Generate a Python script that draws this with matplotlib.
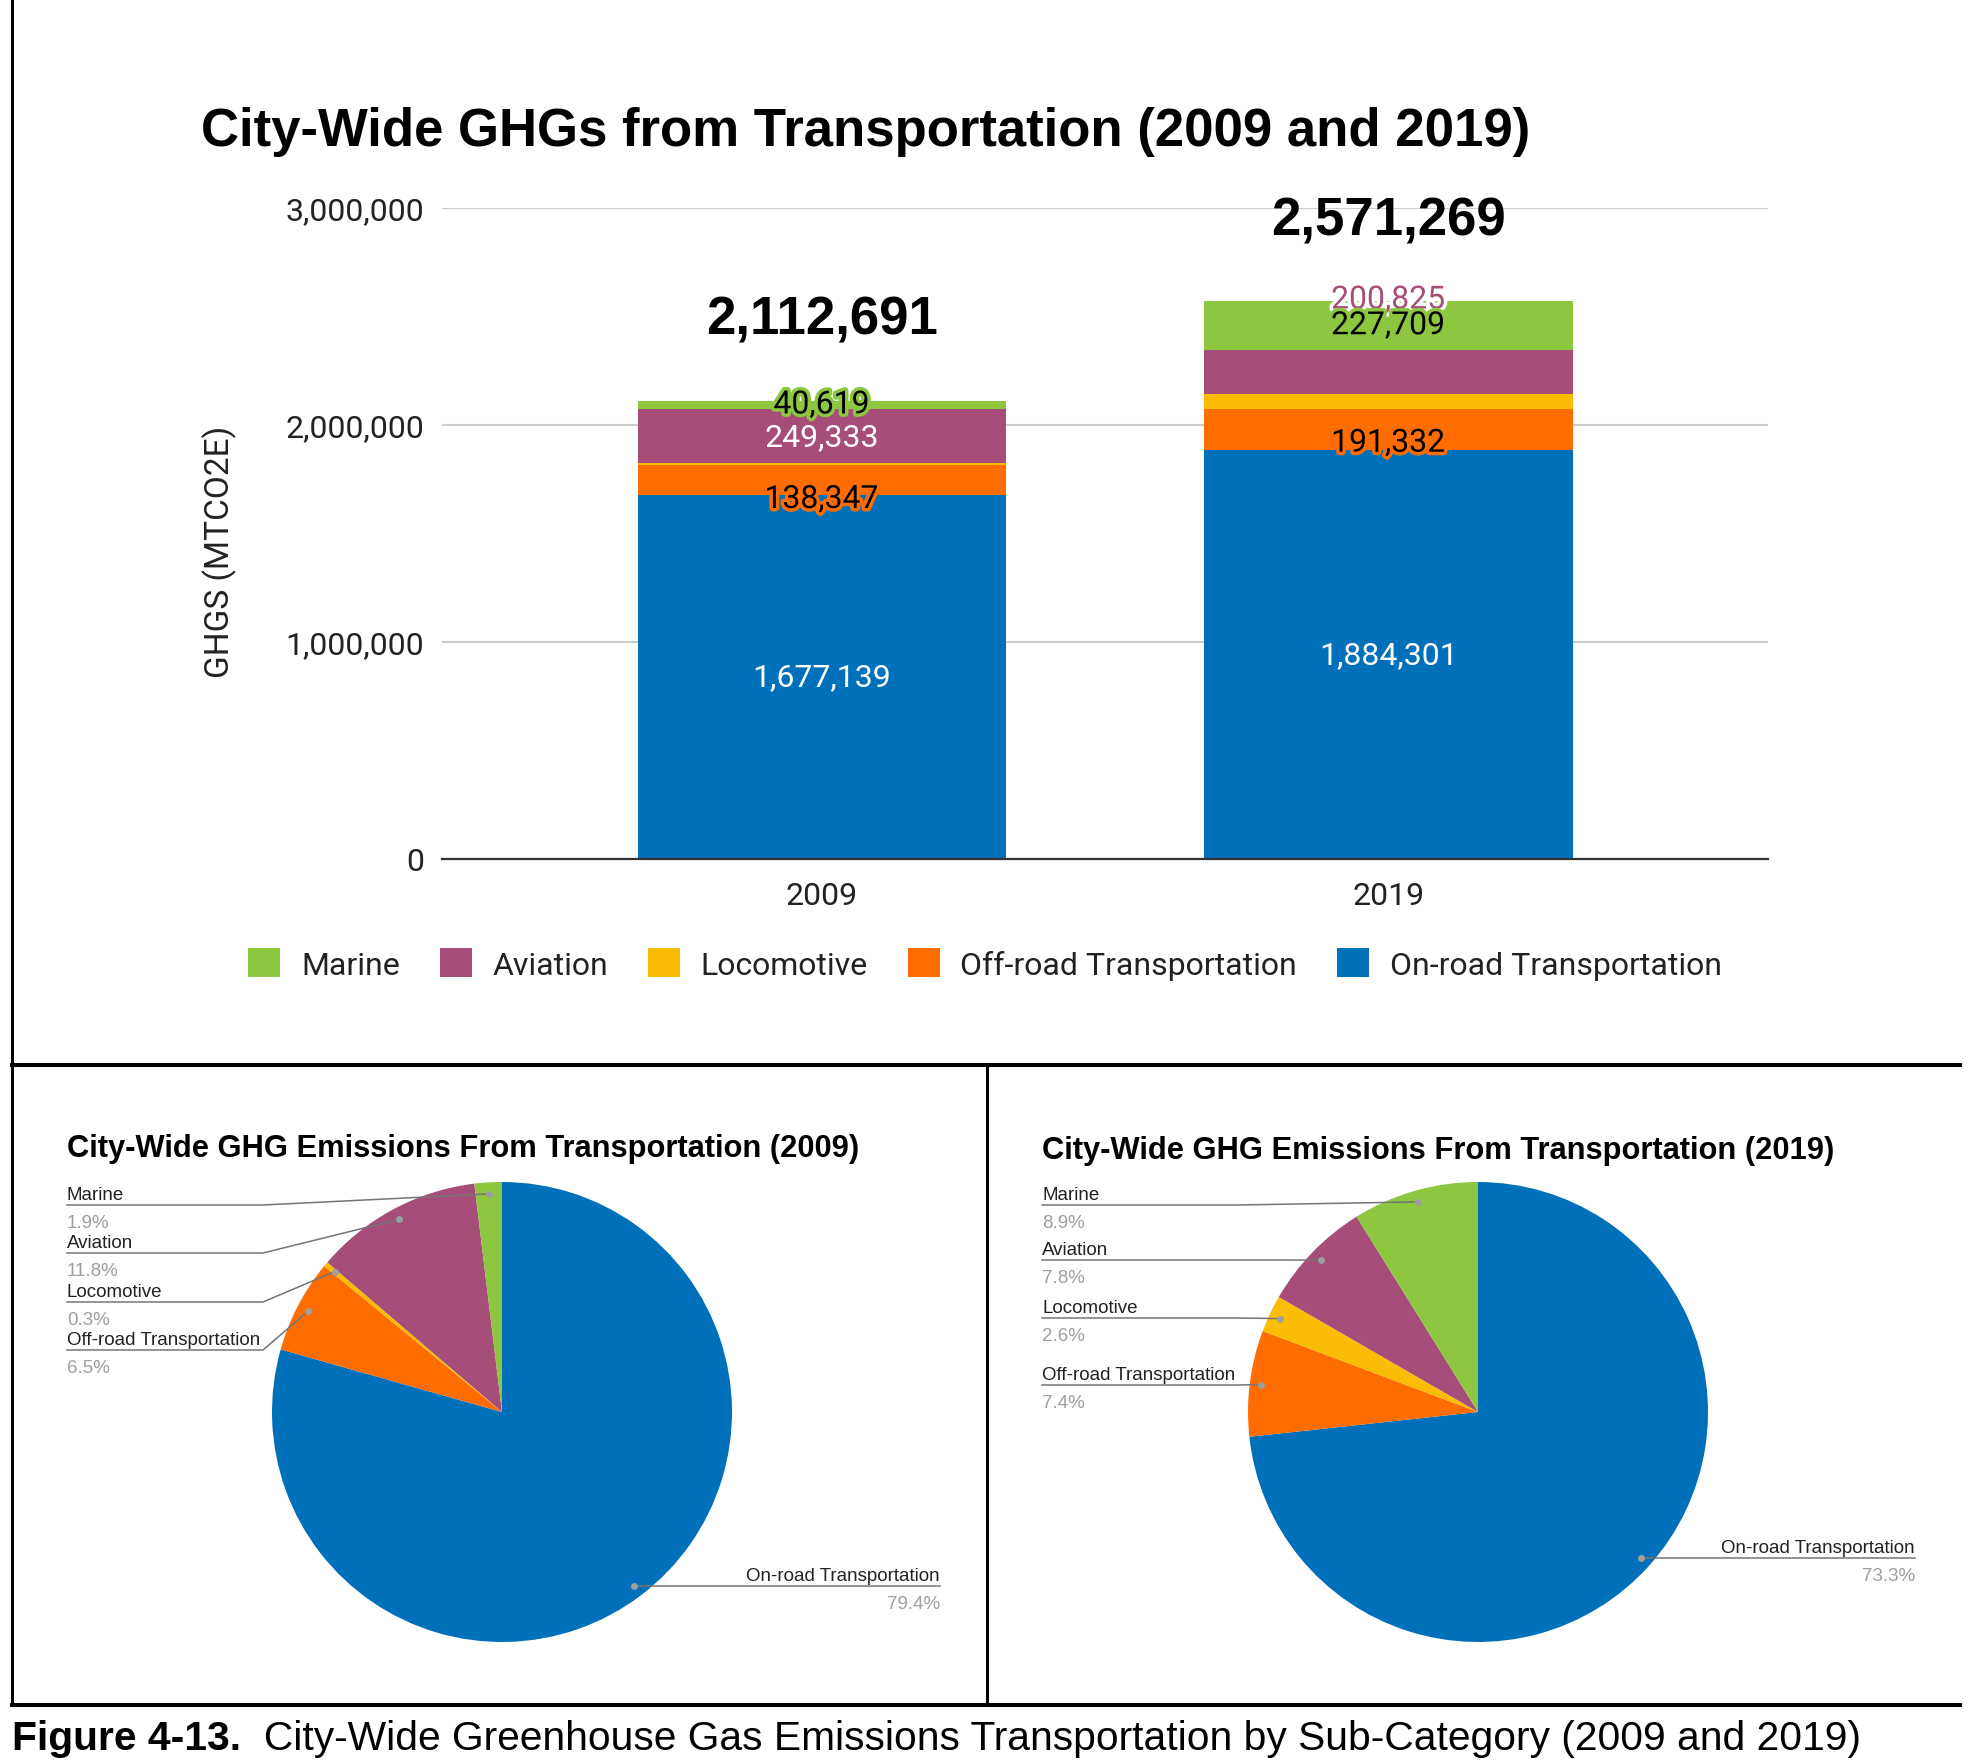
import matplotlib.pyplot as plt
import matplotlib.patheffects as pe
import numpy as np

W, H = 1970, 1765

years = ["2009", "2019"]
categories = ["On-road Transportation", "Off-road Transportation", "Locomotive", "Aviation", "Marine"]
on_road = [1677139, 1884301]
off_road = [138347, 191332]
locomotive = [7253, 67102]
aviation = [249333, 200825]
marine = [40619, 227709]
totals = [2112691, 2571269]
yticks = [0, 1000000, 2000000, 3000000]

colors = ["#0070BA", "#FF6D01", "#FBBC04", "#A64D79", "#8DC63F"]
series = [on_road, off_road, locomotive, aviation, marine]

BAR_FONT = "Roboto"
HEAD_FONT = "Liberation Sans"
FS = 23


def rect(x0, y0, x1, y1):
    # pixel box (top-down) -> figure fraction
    return [x0 / W, 1 - y1 / H, (x1 - x0) / W, (y1 - y0) / H]


fig = plt.figure(figsize=(W / 100, H / 100), dpi=100)

# overlay for borders, caption, pie labels (pixel coords, y down)
ov = fig.add_axes([0, 0, 1, 1], zorder=5)
ov.set_xlim(0, W)
ov.set_ylim(H, 0)
ov.axis("off")
ov.patch.set_alpha(0)

# ---- stacked bar chart ----
ax = fig.add_axes(rect(442, 209, 1768, 860))
x = np.arange(len(years))

# label styling per (series, year): text colour, halo colour, nudge in points
label_style = {
    ("On-road Transportation", 0): ("white", None, 0),
    ("On-road Transportation", 1): ("white", None, 0),
    ("Off-road Transportation", 0): ("black", "#FF6D01", -14),
    ("Off-road Transportation", 1): ("black", "#FF6D01", -10),
    ("Aviation", 0): ("white", None, 0),
    ("Aviation", 1): ("#A64D79", "white", 52),
    ("Marine", 0): ("black", "#8DC63F", 0),
    ("Marine", 1): ("black", "#8DC63F", 0),
}

bottom = np.zeros(len(years))
for name, vals, c in zip(categories, series, colors):
    vals = np.array(vals, dtype=float)
    ax.bar(x, vals, 0.65, bottom=bottom, color=c, label=name, zorder=3)
    for i in range(len(years)):
        st = label_style.get((name, i))
        if st is None:
            continue
        tc, halo, dy = st
        t = ax.annotate(f"{int(vals[i]):,}", (x[i], bottom[i] + vals[i] / 2),
                        xytext=(0, dy), textcoords="offset points",
                        ha="center", va="center", fontsize=FS, color=tc,
                        family=BAR_FONT, zorder=6, annotation_clip=False)
        if halo:
            t.set_path_effects([pe.withStroke(linewidth=5, foreground=halo)])
    bottom += vals

for i, tot in enumerate(totals):
    ax.annotate(f"{tot:,}", (x[i], tot), xytext=(0, 58), textcoords="offset points",
                ha="center", va="center", fontsize=38, fontweight="bold",
                family=HEAD_FONT, annotation_clip=False)

ax.set_xlim(-0.67, 1.67)
ax.set_ylim(0, 3000000)
ax.set_xticks(x)
ax.set_xticklabels(years, family=BAR_FONT)
ax.set_yticks(yticks)
ax.set_yticklabels([f"{v:,}" for v in yticks], family=BAR_FONT)
ax.tick_params(length=0, labelsize=FS, colors="#222222")
ax.tick_params(axis="x", pad=16)
ax.tick_params(axis="y", pad=13)
ax.yaxis.grid(True, color="#cccccc", lw=1.5)
ax.set_axisbelow(True)
for s in ["top", "right", "left"]:
    ax.spines[s].set_visible(False)
ax.spines["bottom"].set_color("#333333")
ax.spines["bottom"].set_linewidth(1.6)
ax.spines["bottom"].set_zorder(4)

fig.text(220 / W, 1 - 552 / H, "GHGS (MTCO2E)", rotation=90, ha="center", va="center",
         fontsize=24, family=BAR_FONT, color="#222222")
fig.text(866 / W, 1 - 132 / H, "City-Wide GHGs from Transportation (2009 and 2019)",
         ha="center", va="center", fontsize=38, fontweight="bold", family=HEAD_FONT)

h, l = ax.get_legend_handles_labels()
fig.legend(h[::-1], l[::-1], loc="center", bbox_to_anchor=(985 / W, 1 - 965 / H), ncol=5,
           frameon=False, prop={"family": BAR_FONT, "size": FS}, handlelength=1.0,
           handleheight=1.0, handletextpad=0.65, columnspacing=1.25, labelcolor="#222222")

# ---- pies ----
pies = [
    dict(idx=0, cx=502, title="City-Wide GHG Emissions From Transportation (2009)", tx=67, ty=1149,
         rows={"Marine": 1206, "Aviation": 1254, "Locomotive": 1303, "Off-road Transportation": 1351},
         elbow=263, right=(940, 1587)),
    dict(idx=1, cx=1478, title="City-Wide GHG Emissions From Transportation (2019)", tx=1042, ty=1151,
         rows={"Marine": 1206, "Aviation": 1261, "Locomotive": 1319, "Off-road Transportation": 1386},
         elbow=1238, right=(1915, 1559)),
]
cy, r = 1413, 230

for p in pies:
    vals = np.array([s[p["idx"]] for s in series], dtype=float)
    pct = vals / vals.sum() * 100
    axp = fig.add_axes(rect(p["cx"] - r, cy - r, p["cx"] + r, cy + r))
    wedges, _ = axp.pie(vals, colors=colors, startangle=90, counterclock=False, radius=1,
                        wedgeprops=dict(linewidth=0))
    axp.set_xlim(-1, 1)
    axp.set_ylim(-1, 1)

    ov.text(p["tx"], p["ty"], p["title"], ha="left", va="center", fontsize=22.2,
            fontweight="bold", family=HEAD_FONT)

    for name, w, pc in zip(categories, wedges, pct):
        th = np.deg2rad((w.theta1 + w.theta2) / 2)
        disp = axp.transData.transform((0.95 * np.cos(th), 0.95 * np.sin(th)))
        dx, dy = ov.transData.inverted().transform(disp)
        if name in p["rows"]:
            ly = p["rows"][name]
            x0 = p["tx"]
            ov.plot([x0, p["elbow"], dx], [ly, ly, dy], color="#757575", lw=1.1)
            ha, tx = "left", x0
        else:
            tx, ly = p["right"]
            ov.plot([dx, dx + 15, tx], [dy, ly, ly], color="#757575", lw=1.1)
            ha = "right"
        ov.plot(dx, dy, "o", color="#9e9e9e", ms=5, mec="none")
        ov.text(tx, ly - 6, name, ha=ha, va="baseline", fontsize=13.5, color="#222222",
                family=HEAD_FONT)
        ov.text(tx, ly + 22, f"{pc:.1f}%", ha=ha, va="baseline", fontsize=13.5, color="#9e9e9e",
                family=HEAD_FONT)

# ---- frame lines ----
ov.plot([12, 12], [0, 1706], color="black", lw=2.2)
ov.plot([12, 1960], [1066, 1066], color="black", lw=2.9)
ov.plot([987, 987], [1066, 1706], color="black", lw=2.2)
ov.plot([12, 1960], [1706, 1706], color="black", lw=2.9)

# ---- caption ----
cap_font = "Liberation Sans"
t1 = ov.text(12, 1739, "Figure 4-13.", ha="left", va="center", fontsize=29.3,
             fontweight="bold", family=cap_font)
ov.annotate("  City-Wide Greenhouse Gas Emissions Transportation by Sub-Category (2009 and 2019)",
            xy=(1, 0), xycoords=t1, ha="left", va="bottom", fontsize=29.3, family=cap_font)

fig.savefig("out.png", dpi=100)
